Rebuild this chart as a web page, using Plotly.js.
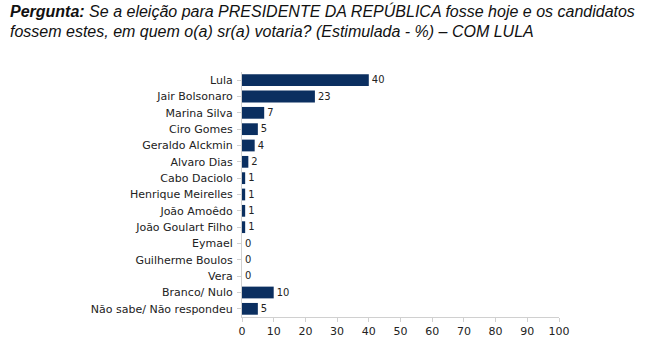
<!DOCTYPE html>
<html><head><meta charset="utf-8">
<script src="https://cdn.plot.ly/plotly-3.0.1.min.js"></script>
<style>html,body{margin:0;padding:0;background:#fff}</style>
</head><body><div id="chart" style="width:648px;height:363px"></div>
<script>
const categories = ["Lula","Jair Bolsonaro","Marina Silva","Ciro Gomes","Geraldo Alckmin","Alvaro Dias","Cabo Daciolo","Henrique Meirelles","João Amoêdo","João Goulart Filho","Eymael","Guilherme Boulos","Vera","Branco/ Nulo","Não sabe/ Não respondeu"];
const values = [40,23,7,5,4,2,1,1,1,1,0,0,0,10,5];
const xTicks = [0,10,20,30,40,50,60,70,80,90,100];

const trace = {
  type: "bar", orientation: "h",
  x: values, y: categories,
  marker: {color: "#0b2f60"},
  width: 0.72,
  text: values.map(String), textposition: "outside",
  textfont: {family: "DejaVu Sans", size: 11, color: "#222"},
  cliponaxis: false, hoverinfo: "none"
};
const layout = {
  width: 648, height: 363,
  margin: {l: 242, r: 89, t: 72, b: 46},
  paper_bgcolor: "#fff", plot_bgcolor: "#fff",
  showlegend: false,
  font: {family: "DejaVu Sans", size: 11, color: "#222"},
  xaxis: {range: [0, 100], tickvals: xTicks, ticktext: xTicks.map(String),
    showgrid: false, zeroline: false, showline: true, linecolor: "#d0d0d0", linewidth: 1,
    ticks: "outside", ticklen: 4, tickcolor: "#d0d0d0", fixedrange: true},
  yaxis: {categoryorder: "array", categoryarray: categories, autorange: "reversed",
    range: [14.5, -0.5], showgrid: false, zeroline: false, showline: true, linecolor: "#d0d0d0",
    ticks: "outside", ticklen: 4, tickcolor: "#d0d0d0", ticklabelstandoff: 2, fixedrange: true},
  annotations: [
    {xref: "paper", yref: "paper", xanchor: "left", yanchor: "middle", showarrow: false,
     x: -242/317 + 8/317, y: 1 + (72 - 11)/245,
     text: "<b><i>Pergunta:</i></b><i> Se a eleição para PRESIDENTE DA REPÚBLICA fosse hoje e os candidatos</i>",
     font: {family: "Liberation Sans", size: 16, color: "#111"}},
    {xref: "paper", yref: "paper", xanchor: "left", yanchor: "middle", showarrow: false,
     x: -242/317 + 8/317, y: 1 + (72 - 31)/245,
     text: "<i>fossem estes, em quem o(a) sr(a) votaria? (Estimulada - %) – COM LULA</i>",
     font: {family: "Liberation Sans", size: 16, color: "#111"}}
  ]
};
Plotly.newPlot("chart", [trace], layout, {displayModeBar: false, staticPlot: true});
</script></body></html>
